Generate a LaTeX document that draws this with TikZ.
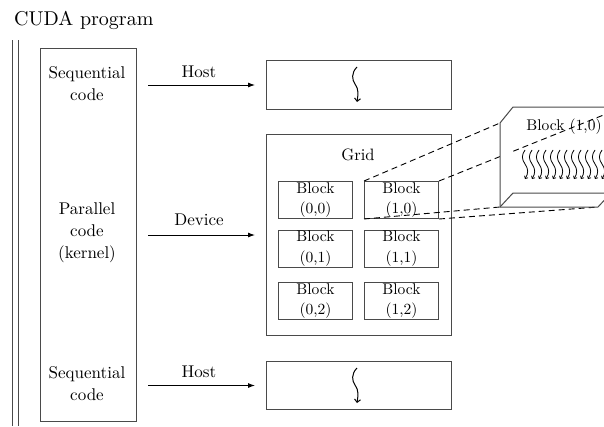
\documentclass[tikz,border=0pt]{standalone}
\usepackage{fontspec}
\setmainfont{lmroman10-regular.otf}
\usetikzlibrary{arrows.meta}
\definecolor{ln}{HTML}{4A4A4A}
\tikzset{
 box/.style={draw=ln, line width=1pt, inner sep=0pt, anchor=north west},
 lbl/.style={inner sep=0pt, align=center, font=\fontsize{17}{22}\selectfont},
 blk/.style={box, minimum width=74pt, minimum height=37pt, align=center, font=\fontsize{15.5}{20.5}\selectfont},
 arr/.style={draw=black, line width=0.9pt, -{Latex[length=7pt,width=5pt]}},
 dsh/.style={draw=black, line width=0.9pt, dash pattern=on 6pt off 4pt},
 sq/.style={draw=black, line width=1pt, -{Straight Barb[length=3pt,width=6pt]}},
 sqs/.style={draw=black, line width=0.8pt, -{Straight Barb[length=2pt,width=4pt]}},
 edge3d/.style={draw=ln, line width=1pt},
}
\begin{document}
\begin{tikzpicture}[x=1pt,y=-1pt]
\useasboundingbox (0,0) rectangle (604,426);
\clip (0,0) rectangle (604,426);
% title
\node[inner sep=0pt, anchor=base west, font=\fontsize{20}{24}\selectfont] (title) at (14,25) {CUDA program};
% double lines
\draw[edge3d] (12,40) -- (12,426);
\draw[edge3d] (18,40) -- (18,426);
% program column
\node[box, minimum width=96pt, minimum height=373pt] (prog) at (40,48) {};
\node[lbl] (seq1) at (87,84) {Sequential\\code};
\node[lbl] (par) at (87,233) {Parallel\\code\\(kernel)};
\node[lbl] (seq2) at (87,384) {Sequential\\code};
% right boxes
\node[box, minimum width=185pt, minimum height=49pt] (host1) at (266,60) {};
\node[box, minimum width=185pt, minimum height=201pt] (grid) at (266,134) {};
\node[box, minimum width=185pt, minimum height=48pt] (host2) at (266,361) {};
% arrows
\draw[arr] ([xshift=11pt]prog.east |- host1.west) -- ([xshift=-11pt]host1.west);
\draw[arr] ([xshift=11pt]prog.east |- grid.west) -- ([xshift=-11pt]grid.west);
\draw[arr] ([xshift=11pt]prog.east |- host2.west) -- ([xshift=-11pt]host2.west);
\node[lbl, anchor=base] (h1) at (199,77) {Host};
\node[lbl, anchor=base] (dev) at (199,225) {Device};
\node[lbl, anchor=base] (h2) at (199,377) {Host};
% squiggles in host boxes
\draw[sq] (357,67) .. controls (351,73) and (352,80) .. (355,84) .. controls (359,89) and (358,95) .. (357,102);
\draw[sq] (357,368) .. controls (351,374) and (352,381) .. (355,385) .. controls (359,390) and (358,396) .. (357,403);
% grid
\node[lbl, anchor=base, font=\fontsize{16.5}{20}\selectfont] (gridlbl) at (358,160) {Grid};
\node[blk] (b00) at (278,181) {Block\\(0,0)};
\node[blk] (b10) at (364,181) {Block\\(1,0)};
\node[blk] (b01) at (278,229.5) {Block\\(0,1)};
\node[blk] (b11) at (364,229.5) {Block\\(1,1)};
\node[blk] (b02) at (278,282) {Block\\(0,2)};
\node[blk] (b12) at (364,282) {Block\\(1,2)};
% 3D block
\coordinate (c1) at (500,123);
\coordinate (c2) at (500,207);
\coordinate (c3) at (598,207);
\coordinate (c4) at (611,112);
\draw[dsh] (b10.north west) -- (c1);
\draw[dsh] (b10.south west) -- (c2);
\draw[dsh] (b10.south east) -- (c3);
\draw[dsh] (b10.north east) -- (c4);
\fill[white] (500,123) -- (513,107) -- (513,193) -- (500,207) -- cycle;
\draw[edge3d] (500,207) -- (500,123) -- (513,107) -- (620,107);
\draw[edge3d] (500,207) -- (513,193) -- (620,193);
\draw[edge3d] (500,207) -- (598,207) -- (611,193);
\node[inner sep=0pt, font=\fontsize{15.5}{19}\selectfont] (b3d) at (564,127) {Block (1,0)};
\foreach \i in {0,...,11} {
  \pgfmathsetmacro{\xx}{525+7*\i}
  \draw[sqs] (\xx,150) .. controls (\xx-3.5,155) and (\xx-3.5,159) .. (\xx,164) .. controls (\xx+3.5,169) and (\xx+3.5,173) .. (\xx,179);
}
\end{tikzpicture}
\end{document}
